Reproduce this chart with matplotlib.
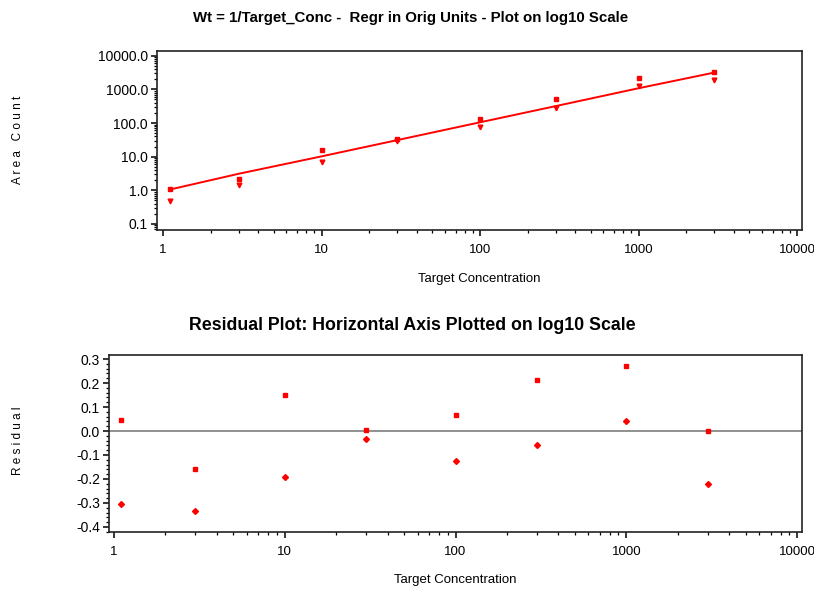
import matplotlib
matplotlib.use('Agg')
import matplotlib.pyplot as plt
from matplotlib.ticker import LogLocator, FixedLocator, FuncFormatter, MultipleLocator, NullFormatter

plt.rcParams['font.family'] = ['Liberation Sans', 'DejaVu Sans']
plt.rcParams['axes.unicode_minus'] = False

# Target concentrations (two replicates each)
conc = [1.1, 3, 10, 30, 100, 300, 1000, 3000]
area_rep1 = [1.07, 2.12, 15.7, 32.7, 128, 506, 2130, 3260]
area_rep2 = [0.47, 1.44, 6.8, 28.5, 78, 285, 1230, 1890]

# fitted line (weighted regression)
fit_conc = [1.1, 3, 10, 30, 100, 300, 1000, 3000]
fit_area = [1.05, 3.1, 10.2, 31, 105, 318, 1080, 3150]

# residuals
resid_rep1 = [0.046, -0.158, 0.149, 0.003, 0.066, 0.213, 0.273, 0.0]
resid_rep2 = [-0.306, -0.332, -0.191, -0.032, -0.126, -0.060, 0.043, -0.222]

x_ticks = [1, 10, 100, 1000, 10000]
y_ticks_top = [0.1, 1, 10, 100, 1000, 10000]
y_ticks_res = [0.3, 0.2, 0.1, 0.0, -0.1, -0.2, -0.3, -0.4]

red = '#ff0000'

fig = plt.figure(figsize=(8.14, 5.89), dpi=100)

def style_axes(ax):
    for s in ax.spines.values():
        s.set_linewidth(1.2)
        s.set_color('#222222')
    ax.tick_params(which='major', direction='out', length=4, width=1.1, labelsize=9.5, colors='black')
    ax.tick_params(which='minor', direction='out', length=2.2, width=0.9)
    ax.tick_params(axis='x', which='major', pad=6)
    ax.tick_params(axis='y', which='major', labelsize=10, pad=2.5)
    ax.tick_params(axis='x', top=False, which='both')
    ax.tick_params(axis='y', right=False, which='both')

# === top panel ===
ax1 = fig.add_axes([0.1929, 0.6095, 0.7924, 0.3039])
ax1.set_xscale('log')
ax1.set_yscale('log')
ax1.plot(fit_conc, fit_area, color=red, lw=1.4, zorder=2)
ax1.plot(conc, area_rep1, 's', color=red, ms=3.2, zorder=3)
ax1.plot(conc, area_rep2, 'v', color=red, ms=3.4, zorder=3)
ax1.set_xlim(0.916, 10750)
ax1.set_ylim(10 ** -1.18, 10 ** 4.14)
ax1.xaxis.set_major_locator(FixedLocator(x_ticks))
ax1.xaxis.set_minor_locator(LogLocator(base=10, subs=range(2, 10)))
ax1.xaxis.set_minor_formatter(NullFormatter())
ax1.xaxis.set_major_formatter(FuncFormatter(lambda v, p: '%d' % v))
ax1.yaxis.set_major_locator(FixedLocator(y_ticks_top))
ax1.yaxis.set_minor_locator(LogLocator(base=10, subs=range(2, 10)))
ax1.yaxis.set_minor_formatter(NullFormatter())
ax1.yaxis.set_major_formatter(FuncFormatter(lambda v, p: '%.1f' % v))
style_axes(ax1)

fig.text(0.504, 0.969, 'Wt = 1/Target_Conc -  Regr in Orig Units - Plot on log10 Scale',
         ha='center', va='center', fontsize=10.8, fontweight='bold')
fig.text(0.022, 0.762, 'A r e a   C o u n t', rotation=90, ha='center', va='center', fontsize=8.5)
fig.text(0.589, 1 - 279 / 589, 'Target Concentration', ha='center', va='center', fontsize=9.5)

# === residual panel ===
ax2 = fig.add_axes([0.1339, 0.0968, 0.8514, 0.3005])
ax2.set_xscale('log')
ax2.axhline(0, color='#909090', lw=1.4, zorder=1)
ax2.plot(conc, resid_rep1, 's', color=red, ms=3.2, zorder=3)
ax2.plot(conc, resid_rep2, 'D', color=red, ms=3.0, zorder=3)
ax2.set_xlim(0.935, 10 ** 4.029)
ax2.set_ylim(-0.421, 0.317)
ax2.xaxis.set_major_locator(FixedLocator(x_ticks))
ax2.xaxis.set_minor_locator(LogLocator(base=10, subs=range(2, 10)))
ax2.xaxis.set_minor_formatter(NullFormatter())
ax2.xaxis.set_major_formatter(FuncFormatter(lambda v, p: '%d' % v))
ax2.yaxis.set_major_locator(FixedLocator(y_ticks_res))
ax2.yaxis.set_minor_locator(MultipleLocator(0.02))
ax2.yaxis.set_major_formatter(FuncFormatter(lambda v, p: '%.1f' % (round(v, 1) + 0.0)))
style_axes(ax2)

fig.text(0.507, 0.447, 'Residual Plot: Horizontal Axis Plotted on log10 Scale',
         ha='center', va='center', fontsize=12.8, fontweight='bold')
fig.text(0.022, 0.252, 'R e s i d u a l', rotation=90, ha='center', va='center', fontsize=8.5)
fig.text(0.559, 1 - 580 / 589, 'Target Concentration', ha='center', va='center', fontsize=9.5)

fig.savefig('out.png', dpi=100)
